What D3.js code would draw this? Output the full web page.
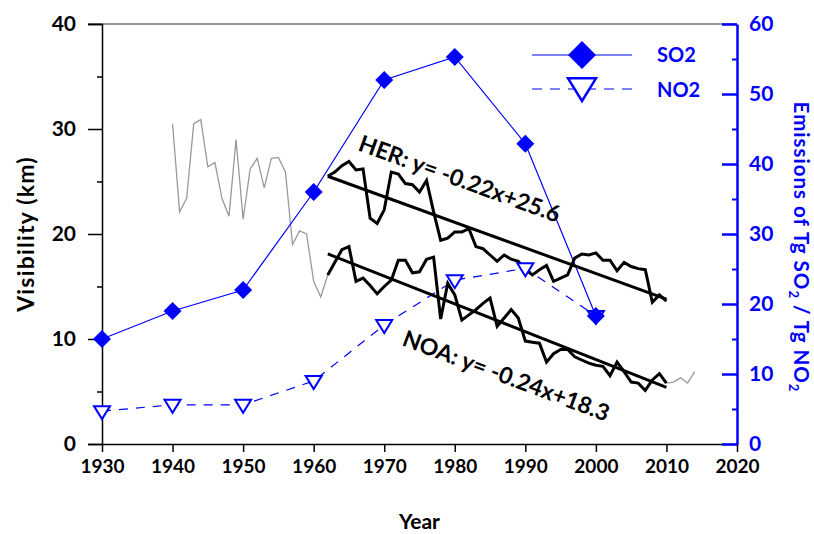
<!DOCTYPE html>
<html lang="en">
<head>
<meta charset="UTF-8">
<title>Visibility and emissions</title>
<style>
  body { margin: 0; background: #fff; }
  text { font-family: Lato, "Open Sans", sans-serif; font-weight: 700; }
</style>
</head>
<body>
<svg id="chart" width="814" height="534"></svg>
<script src="https://cdn.jsdelivr.net/npm/d3@7"></script>
<script>
// ---- data ----
const mainYears = [1962,1963,1964,1965,1966,1967,1968,1969,1970,1971,1972,1973,1974,1975,1976,1977,1978,1979,1980,
  1981,1982,1983,1984,1985,1986,1987,1988,1989,1990,1991,1992,1993,1994,1995,1996,1997,1998,1999,2000,
  2001,2002,2003,2004,2005,2006,2007,2008,2009,2010];
const herVis = [25.5,25.9,26.5,26.9,26.1,26.2,21.5,21.0,22.3,25.9,25.7,24.8,24.7,24.0,25.1,22.1,19.4,19.6,20.2,
  20.2,20.5,18.8,18.6,18.0,17.4,18.0,17.6,17.4,16.6,16.1,16.6,17.0,15.5,15.8,16.1,17.7,18.1,18.0,18.2,
  17.5,17.5,16.5,17.3,16.9,16.7,16.6,13.5,14.2,13.6];
const noaVis = [16.1,17.3,18.5,18.8,15.5,15.8,15.1,14.3,15.0,15.6,17.5,17.5,16.3,16.4,17.6,17.8,11.9,15.3,14.2,
  11.8,12.3,12.8,13.4,13.9,11.2,12.0,12.8,12.0,9.8,9.7,9.6,7.8,8.6,9.0,9.0,8.3,8.0,7.7,7.5,
  7.4,6.5,7.8,6.9,5.9,5.8,5.1,6.1,6.7,5.8];

const earlyYears = [1940,1941,1942,1943,1944,1945,1946,1947,1948,1949,1950,1951,1952,1953,1954,1955,1956,
  1957,1958,1959,1960,1961,1962];
const earlyVis = [30.5,22.1,23.4,30.5,30.9,26.4,26.8,23.4,21.7,29.0,21.4,26.2,27.2,24.4,27.2,27.3,25.9,
  19.0,20.3,20.0,15.5,14.0,16.1];
const lateYears = [2010,2011,2012,2013,2014];
const lateVis = [5.8,5.9,6.3,5.8,6.9];

const decades = [1930,1940,1950,1960,1970,1980,1990,2000];
const so2 = [15.0,19.0,22.0,36.0,52.0,55.3,42.9,18.3];
const no2 = [4.7,5.6,5.6,9.0,17.0,23.4,25.1,18.3];

const herTrend = [[1962,25.5],[2010,13.8]];
const noaTrend = [[1962,18.1],[2010,5.4]];
const herLabel = "HER: y= -0.22x+25.6";
const noaLabel = "NOA: y= -0.24x+18.3";

const xTicks = [1930,1940,1950,1960,1970,1980,1990,2000,2010,2020];
const yTicks = [0,10,20,30,40];
const yMinor = [5,15,25,35];
const rTicks = [0,10,20,30,40,50,60];
const rMinor = [5,15,25,35,45,55];

// ---- layout ----
const blue = "#0000ff";
const svg = d3.select("#chart");
const x = d3.scaleLinear().domain([1930,2020]).range([102,737]);
const y = d3.scaleLinear().domain([0,40]).range([444,24]);
const yR = d3.scaleLinear().domain([0,60]).range([444,24]);

const line = d3.line().x(d => x(d[0])).y(d => y(d[1]));
const lineR = d3.line().x(d => x(d[0])).y(d => yR(d[1]));

// top frame line
svg.append("line").attr("x1",88).attr("x2",737).attr("y1",y(40)).attr("y2",y(40))
  .attr("stroke","#777").attr("stroke-width",1.5);

// left axis
const yAxis = d3.axisLeft(y).tickValues(yTicks).tickSize(14).tickPadding(12).tickFormat(d3.format("d"));
const gy = svg.append("g").attr("transform","translate(102,0)").call(yAxis);
gy.select(".domain").attr("stroke","#000").attr("stroke-width",1.5);
gy.selectAll(".tick line").attr("stroke-width",1.5);
gy.selectAll("text").attr("font-size",21).attr("fill","#000");
svg.append("g").attr("transform","translate(102,0)")
  .call(d3.axisLeft(y).tickValues(yMinor).tickSize(5).tickFormat(""))
  .call(g => g.select(".domain").remove())
  .selectAll("line").attr("stroke-width",1.5);

// bottom axis
const xAxis = d3.axisBottom(x).tickValues(xTicks).tickSize(8).tickPadding(8).tickSizeOuter(0).tickFormat(d3.format("d"));
const gx = svg.append("g").attr("transform","translate(0,444)").call(xAxis);
gx.select(".domain").attr("stroke-width",1.5);
gx.selectAll(".tick line").attr("stroke-width",1.5);
gx.selectAll("text").attr("font-size",19).attr("fill","#000");

// right axis
const rAxis = d3.axisRight(yR).tickValues(rTicks).tickSize(-15).tickPadding(12).tickSizeOuter(0).tickFormat(d3.format("d"));
const gr = svg.append("g").attr("transform","translate(737,0)").call(rAxis);
gr.select(".domain").attr("stroke",blue).attr("stroke-width",2.5);
gr.selectAll(".tick line").attr("stroke",blue).attr("stroke-width",2.5);
gr.selectAll("text").attr("font-size",21).attr("fill",blue);
svg.append("g").attr("transform","translate(737,0)")
  .call(d3.axisRight(yR).tickValues(rMinor).tickSize(-5).tickFormat(""))
  .call(g => g.select(".domain").remove())
  .selectAll("line").attr("stroke",blue).attr("stroke-width",2);

// axis titles
svg.append("text").attr("transform","translate(34,234) rotate(-90)").attr("text-anchor","middle")
  .attr("font-size",23).attr("letter-spacing",1.2).text("Visibility (km)");
svg.append("text").attr("x",x(1975)).attr("y",529).attr("text-anchor","middle")
  .attr("font-size",21).text("Year");
const rt = svg.append("text").attr("transform","translate(794,247) rotate(90)").attr("text-anchor","middle")
  .attr("font-size",20.5).attr("letter-spacing",1).attr("fill",blue);
rt.append("tspan").text("Emissions of Tg SO");
rt.append("tspan").attr("font-size",13).attr("dy",5).text("2");
rt.append("tspan").attr("dy",-5).text(" / Tg NO");
rt.append("tspan").attr("font-size",13).attr("dy",5).text("2");

// gray extended visibility record
const zip = (a,b) => a.map((d,i) => [d,b[i]]);
svg.append("path").datum(zip(earlyYears,earlyVis)).attr("d",line)
  .attr("fill","none").attr("stroke","#999").attr("stroke-width",1.3);
svg.append("path").datum(zip(lateYears,lateVis)).attr("d",line)
  .attr("fill","none").attr("stroke","#999").attr("stroke-width",1.3);

// emissions lines
svg.append("path").datum(zip(decades,so2)).attr("d",lineR)
  .attr("fill","none").attr("stroke",blue).attr("stroke-width",1.2);
svg.append("path").datum(zip(decades,no2)).attr("d",lineR)
  .attr("fill","none").attr("stroke",blue).attr("stroke-width",1.2).attr("stroke-dasharray","9,8");

// visibility series and trends
[herVis,noaVis].forEach(v => {
  svg.append("path").datum(zip(mainYears,v)).attr("d",line)
    .attr("fill","none").attr("stroke","#000").attr("stroke-width",3).attr("stroke-linejoin","miter");
});
[herTrend,noaTrend].forEach(t => {
  svg.append("path").datum(t).attr("d",line)
    .attr("fill","none").attr("stroke","#000").attr("stroke-width",3);
});

// markers
const tri = s => `M${-s},${-s*0.62}L${s},${-s*0.62}L0,${s}Z`;
const dia = s => `M0,${-s}L${s},0L0,${s}L${-s},0Z`;
svg.selectAll(".no2").data(zip(decades,no2)).enter().append("path")
  .attr("transform", d => `translate(${x(d[0])},${yR(d[1])})`)
  .attr("d", tri(8)).attr("fill","#fff").attr("stroke",blue).attr("stroke-width",2);
svg.selectAll(".so2").data(zip(decades,so2)).enter().append("path")
  .attr("transform", d => `translate(${x(d[0])},${yR(d[1])})`)
  .attr("d", dia(9)).attr("fill",blue);

// trend labels
svg.append("text").attr("transform","translate(357,150) rotate(20)").attr("font-size",23).text(herLabel);
svg.append("text").attr("transform","translate(401,345) rotate(20.5)").attr("font-size",23).text(noaLabel);

// legend
const lg = svg.append("g");
lg.append("line").attr("x1",532).attr("x2",632).attr("y1",55).attr("y2",55).attr("stroke",blue).attr("stroke-width",1.2);
lg.append("path").attr("transform","translate(582,55)").attr("d",dia(14)).attr("fill",blue);
lg.append("text").attr("x",657).attr("y",62).attr("font-size",20).attr("fill",blue).text("SO2");
lg.append("line").attr("x1",532).attr("x2",632).attr("y1",89).attr("y2",89).attr("stroke",blue)
  .attr("stroke-width",1.2).attr("stroke-dasharray","10,8");
lg.append("path").attr("transform","translate(582,87)").attr("d",tri(14)).attr("fill","#fff")
  .attr("stroke",blue).attr("stroke-width",2.5);
lg.append("text").attr("x",657).attr("y",97).attr("font-size",20).attr("fill",blue).text("NO2");
</script>
</body>
</html>
